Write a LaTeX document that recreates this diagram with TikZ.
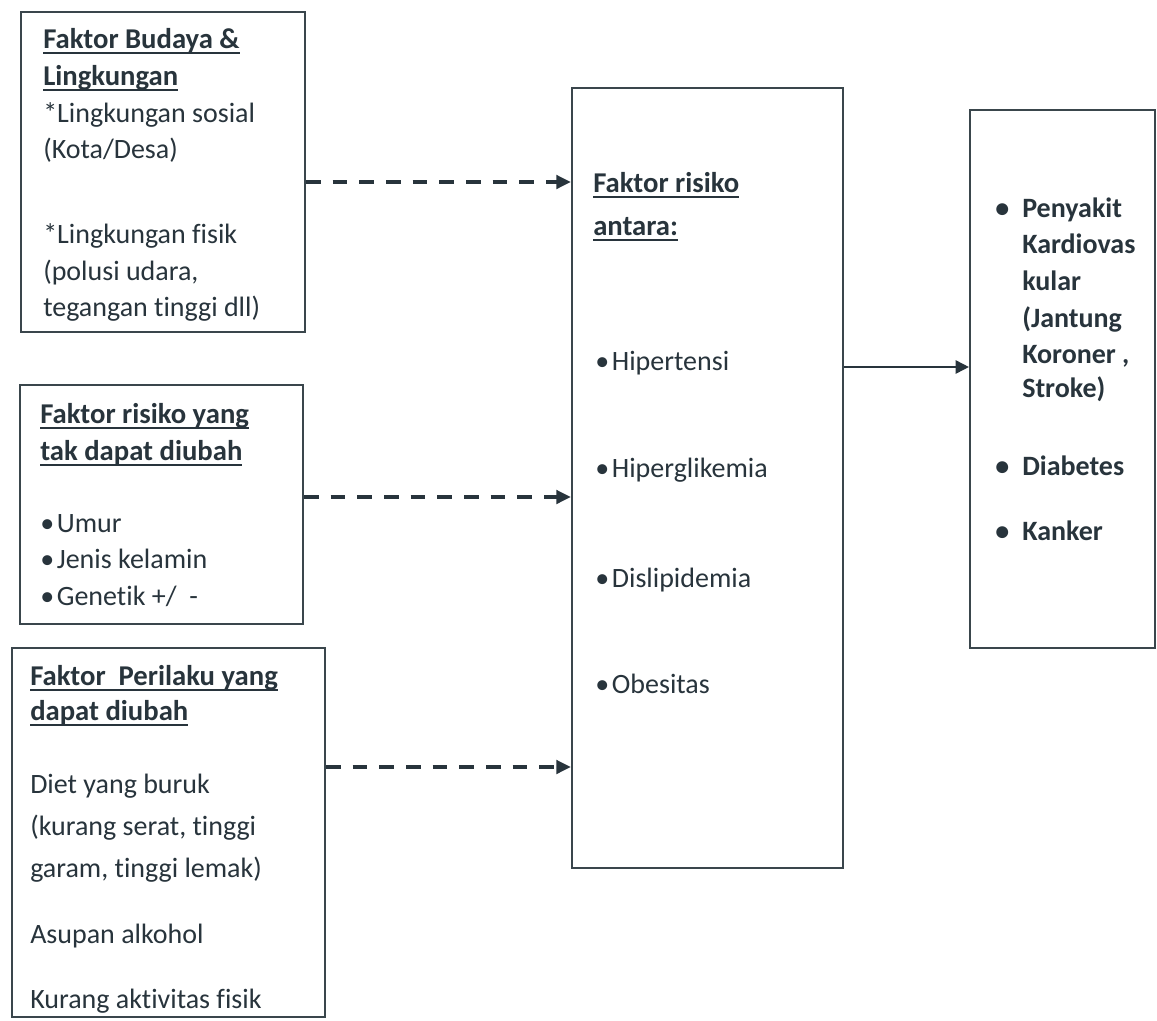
\documentclass[tikz,border=0pt]{standalone}
\usepackage{fontspec}
\setmainfont{Carlito}[Ligatures=NoCommon]
\usetikzlibrary{arrows.meta,fit}
\definecolor{ink}{RGB}{40,52,60}
\definecolor{edge}{RGB}{58,70,76}
\newsavebox\ulbox
\newcommand\ulx[1]{\sbox\ulbox{#1}\rlap{\rule[-4.4pt]{\wd\ulbox}{1.4pt}}\usebox\ulbox}
\begin{document}
\begin{tikzpicture}[x=0.75pt,y=-0.75pt,
  box/.style={draw=edge, line width=1.6pt, inner sep=0pt, rectangle},
  txt/.style={anchor=base west, inner sep=0pt, text=ink, font=\fontsize{21}{25}\selectfont},
  hd/.style={txt, font=\fontsize{21.5}{25}\selectfont\bfseries},
  bd/.style={txt, font=\fontsize{21}{25}\selectfont\bfseries},
  dasharrow/.style={draw=ink, line width=2.8pt, dash pattern=on 11pt off 9pt, -{Triangle[length=11pt,width=10pt]}},
  solidarrow/.style={draw=ink, line width=1.3pt, -{Triangle[length=10pt,width=10pt]}}]
\fill[white] (0,0) rectangle (1157,1021);

% boxes
\node[box, fit={(21,12) (305,332)}] (b1) {};
\node[box, fit={(20,385) (303,624)}] (b2) {};
\node[box, fit={(12,648) (325,1017)}] (b3) {};
\node[box, fit={(572,88) (843,868)}] (mid) {};
\node[box, fit={(970,110) (1155,648)}] (out) {};

% box 1 text
\node[hd] (b1t1) at (43,48) {\ulx{Faktor Budaya \&}};
\node[hd] (b1t2) at (43,85) {\ulx{Lingkungan}};
\node[txt] (b1t3) at (43,122) {*Lingkungan sosial};
\node[txt] (b1t4) at (43,158) {(Kota/Desa)};
\node[txt] (b1t5) at (43,243) {*Lingkungan fisik};
\node[txt] (b1t6) at (43,280) {(polusi udara,};
\node[txt] (b1t7) at (43,316) {tegangan tinggi dll)};

% box 2 text
\node[hd] (b2t1) at (40,423) {\ulx{Faktor risiko yang}};
\node[hd] (b2t2) at (40,460) {\ulx{tak dapat diubah}};
\node[txt] (b2t3) at (40,532) {•\hspace{2pt}Umur};
\node[txt] (b2t4) at (40,568) {•\hspace{2pt}Jenis kelamin};
\node[txt] (b2t5) at (40,605) {•\hspace{2pt}Genetik +/~~-};

% box 3 text
\node[hd] (b3t1) at (30,685) {\ulx{Faktor~~Perilaku yang}};
\node[hd] (b3t2) at (30,720) {\ulx{dapat diubah}};
\node[txt] (b3t3) at (30,793) {Diet yang buruk};
\node[txt] (b3t4) at (30,835) {(kurang serat, tinggi};
\node[txt] (b3t5) at (30,877) {garam, tinggi lemak)};
\node[txt] (b3t6) at (30,943) {Asupan alkohol};
\node[txt] (b3t7) at (30,1008) {Kurang aktivitas fisik};

% middle text
\node[hd] (m1) at (593,192) {\ulx{Faktor risiko}};
\node[hd] (m2) at (593,235) {\ulx{antara:}};
\node[txt] (m3) at (595,370) {•\hspace{2pt}Hipertensi};
\node[txt] (m4) at (595,477) {•\hspace{2pt}Hiperglikemia};
\node[txt] (m5) at (595,587) {•\hspace{2pt}Dislipidemia};
\node[txt] (m6) at (595,693) {•\hspace{2pt}Obesitas};

% right text
\node[bd] (ob1) at (995,217) {•};
\node[bd] (o1) at (1022,217) {Penyakit};
\node[bd] (o2) at (1022,253) {Kardiovas};
\node[bd] (o3) at (1022,290) {kular};
\node[bd] (o4) at (1022,327) {(Jantung};
\node[bd] (o5) at (1022,363) {Koroner ,};
\node[bd] (o6) at (1022,397) {Stroke)};
\node[bd] (ob2) at (995,475) {•};
\node[bd] (o7) at (1022,475) {Diabetes};
\node[bd] (ob3) at (995,540) {•};
\node[bd] (o8) at (1022,540) {Kanker};

% connector heights
\coordinate (y1) at (0,182);
\coordinate (y2) at (0,497);
\coordinate (y3) at (0,767);
\coordinate (y4) at (0,367);

\draw[dasharrow] (b1.east |- y1) -- (mid.west |- y1);
\draw[dasharrow] (b2.east |- y2) -- (mid.west |- y2);
\draw[dasharrow] (b3.east |- y3) -- (mid.west |- y3);
\draw[solidarrow] (mid.east |- y4) -- (out.west |- y4);
\end{tikzpicture}
\end{document}
